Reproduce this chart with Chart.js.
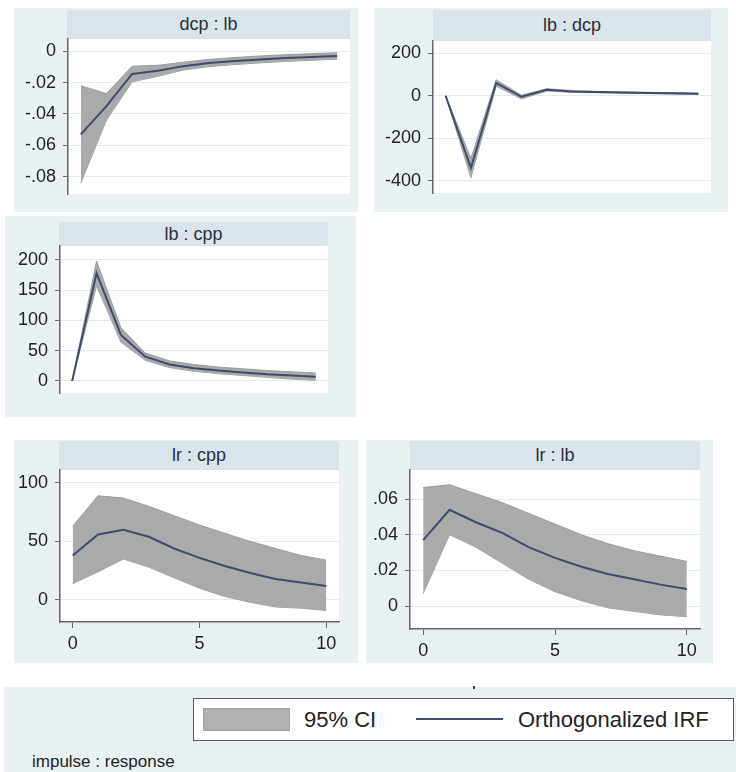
<!DOCTYPE html>
<html>
<head>
<meta charset="utf-8">
<script src="https://cdn.jsdelivr.net/npm/chart.js@4.4.1/dist/chart.umd.min.js"></script>
<style>
  body { margin: 0; background: #fff; width: 736px; height: 772px; position: relative; overflow: hidden;
         font-family: "Liberation Sans", Arial, sans-serif; }
  .abs { position: absolute; }
  .outer { background: #e9f1f3; }
  .bar { background: #d9e5ea; color: #2b2d3c; font-size: 18px; text-align: center; }
  canvas { position: absolute; }
</style>
</head>
<body>

<div class="abs outer" style="left:4px;top:687px;width:732px;height:85px"></div>
<div class="abs" style="left:473px;top:686px;width:2px;height:3px;background:#444"></div>
<div class="abs" style="left:193px;top:698px;width:539px;height:41px;background:#fff;border:1.5px solid #5a5a5a"></div>
<div class="abs" style="left:203px;top:708px;width:85px;height:21px;background:#b0b0b0;border:1px solid #a0a0a0"></div>
<div class="abs" style="left:304px;top:706px;font-size:22px;line-height:28px;color:#222">95% CI</div>
<div class="abs" style="left:416px;top:718px;width:87px;height:2px;background:#3e4a6e"></div>
<div class="abs" style="left:518px;top:706px;font-size:22px;line-height:28px;color:#222">Orthogonalized IRF</div>
<div class="abs" style="left:32px;top:751px;font-size:17px;line-height:22px;color:#222">impulse : response</div>

<script>
// horizon steps
const steps = [0, 1, 2, 3, 4, 5, 6, 7, 8, 9, 10];
const xTicks = [0, 5, 10];

// dcp : lb
const dcpLbIrf = [-0.053, -0.035, -0.0145, -0.0125, -0.0095, -0.0075, -0.0062, -0.0052, -0.0043, -0.0036, -0.003];
const dcpLbHi  = [-0.022, -0.027, -0.0095, -0.009, -0.007, -0.0052, -0.004, -0.003, -0.0022, -0.0015, -0.001];
const dcpLbLo  = [-0.084, -0.044, -0.0195, -0.016, -0.012, -0.0098, -0.0085, -0.0074, -0.0065, -0.0058, -0.005];
const dcpLbTicks = [0, -0.02, -0.04, -0.06, -0.08];

// lb : dcp
const lbDcpIrf = [0, -340, 60, -5, 28, 20, 17, 15, 13, 11, 9];
const lbDcpHi  = [0, -295, 75, 2, 33, 24, 20, 18, 16, 14, 12];
const lbDcpLo  = [0, -385, 45, -15, 22, 16, 14, 12, 10, 8, 6];
const lbDcpTicks = [200, 0, -200, -400];

// lb : cpp
const lbCppIrf = [0, 178, 76, 40, 27, 21, 17, 14, 11, 9, 7];
const lbCppHi  = [0, 198, 88, 46, 33, 27, 23, 20, 17, 15, 13];
const lbCppLo  = [0, 157, 64, 34, 22, 16, 12, 9, 6, 3, 1];
const lbCppTicks = [200, 150, 100, 50, 0];

// lr : cpp
const lrCppIrf = [38, 56, 60, 54, 44, 36, 29, 23, 18, 15, 12];
const lrCppHi  = [63, 89, 87, 80, 72, 64, 57, 50, 44, 38, 34];
const lrCppLo  = [14, 24, 35, 28, 19, 10, 3, -2, -6, -7, -9];
const lrCppTicks = [100, 50, 0];

// lr : lb
const lrLbIrf = [0.037, 0.054, 0.047, 0.041, 0.033, 0.027, 0.022, 0.018, 0.015, 0.012, 0.0095];
const lrLbHi  = [0.0665, 0.068, 0.063, 0.058, 0.052, 0.046, 0.040, 0.035, 0.031, 0.028, 0.025];
const lrLbLo  = [0.007, 0.040, 0.033, 0.024, 0.015, 0.008, 0.003, -0.001, -0.003, -0.005, -0.006];
const lrLbTicks = [0.06, 0.04, 0.02, 0];

const navy = '#3e4a6e';
const bandFill = '#aaaaaa';
const bandEdge = '#9c9c9c';
const axisCol = '#666666';
const gridCol = '#e3ebee';
const AX = 60, XH = 32, M = 12;
const tickFont = { family: '"Liberation Sans", Arial, sans-serif', size: 18 };

const panels = [
  { title: 'dcp : lb', outer: [14, 8, 344, 204], bar: [67, 10, 283, 29], plot: [68, 39, 350, 194],
    irf: dcpLbIrf, hi: dcpLbHi, lo: dcpLbLo, ticks: dcpLbTicks, ymin: -0.091, ymax: 0.0078, xAxis: false },
  { title: 'lb : dcp', outer: [374, 8, 354, 204], bar: [433, 10, 278, 31], plot: [433, 41, 711, 193],
    irf: lbDcpIrf, hi: lbDcpHi, lo: lbDcpLo, ticks: lbDcpTicks, ymin: -457, ymax: 257, xAxis: false },
  { title: 'lb : cpp', outer: [5, 216, 351, 201], bar: [59, 222, 269, 24], plot: [60, 246, 328, 393],
    irf: lbCppIrf, hi: lbCppHi, lo: lbCppLo, ticks: lbCppTicks, ymin: -20, ymax: 223, xAxis: false },
  { title: 'lr : cpp', outer: [14, 440, 344, 223], bar: [59, 441, 280, 29], plot: [60, 470, 339, 622],
    irf: lrCppIrf, hi: lrCppHi, lo: lrCppLo, ticks: lrCppTicks, ymin: -18.8, ymax: 111, xAxis: true },
  { title: 'lr : lb', outer: [366, 440, 347, 223], bar: [410, 441, 290, 29], plot: [410, 470, 700, 629],
    irf: lrLbIrf, hi: lrLbHi, lo: lrLbLo, ticks: lrLbTicks, ymin: -0.0129, ymax: 0.0763, xAxis: true }
];

function fmt(v) {
  if (v === 0) return '0';
  return String(+v.toFixed(4)).replace(/^(-?)0\./, '$1.');
}

function addDiv(cls, r, text) {
  const d = document.createElement('div');
  d.className = 'abs ' + cls;
  d.style.left = r[0] + 'px'; d.style.top = r[1] + 'px';
  d.style.width = r[2] + 'px'; d.style.height = r[3] + 'px';
  if (text) { d.textContent = text; d.style.lineHeight = r[3] + 'px'; }
  document.body.appendChild(d);
}

const whiteArea = {
  id: 'whiteArea',
  beforeDraw(chart) {
    const a = chart.chartArea, ctx = chart.ctx;
    ctx.save();
    ctx.fillStyle = '#ffffff';
    ctx.fillRect(a.left, a.top, a.right - a.left, a.bottom - a.top);
    ctx.restore();
  }
};

const pts = arr => arr.map((y, i) => ({ x: steps[i], y: y }));

panels.forEach(p => {
  addDiv('outer', p.outer);
  addDiv('bar', p.bar, p.title);

  const [l, t, r, b] = p.plot;
  const cv = document.createElement('canvas');
  cv.width = AX + (r - l) + M;
  cv.height = M + (b - t) + (p.xAxis ? XH : M);
  cv.style.left = (l - AX) + 'px';
  cv.style.top = (t - M) + 'px';
  document.body.appendChild(cv);

  new Chart(cv.getContext('2d'), {
    type: 'line',
    data: {
      datasets: [
        { data: pts(p.lo), borderColor: bandEdge, borderWidth: 1, pointRadius: 0, fill: false, tension: 0, order: 2 },
        { data: pts(p.hi), borderColor: bandEdge, borderWidth: 1, backgroundColor: bandFill, fill: '-1', pointRadius: 0, tension: 0, order: 1 },
        { data: pts(p.irf), borderColor: navy, borderWidth: 2, pointRadius: 0, fill: false, tension: 0, order: 0 }
      ]
    },
    options: {
      responsive: false,
      animation: false,
      events: [],
      layout: { padding: { top: M, right: M, bottom: p.xAxis ? 0 : M, left: 0 } },
      plugins: { legend: { display: false }, tooltip: { enabled: false } },
      scales: {
        x: {
          type: 'linear', min: -0.5, max: 10.5, display: p.xAxis,
          grid: { drawOnChartArea: false, tickLength: 6, tickColor: axisCol },
          border: { color: axisCol, width: 1.5 },
          ticks: { font: tickFont, color: '#222', padding: 5, maxRotation: 0 },
          afterBuildTicks: s => { s.ticks = xTicks.map(v => ({ value: v })); },
          afterFit: s => {
            if (!p.xAxis) return;
            s.height = XH; s.paddingLeft = 0; s.paddingRight = 0;
          }
        },
        y: {
          min: p.ymin, max: p.ymax,
          grid: { color: gridCol, lineWidth: 1, tickLength: 5, tickColor: axisCol },
          border: { color: axisCol, width: 1.5 },
          ticks: { font: tickFont, color: '#222', padding: 7, callback: v => fmt(v) },
          afterBuildTicks: s => { s.ticks = p.ticks.map(v => ({ value: v })); },
          afterFit: s => { s.width = AX; s.paddingTop = 0; s.paddingBottom = 0; }
        }
      }
    },
    plugins: [whiteArea]
  });
});
</script>
</body>
</html>
